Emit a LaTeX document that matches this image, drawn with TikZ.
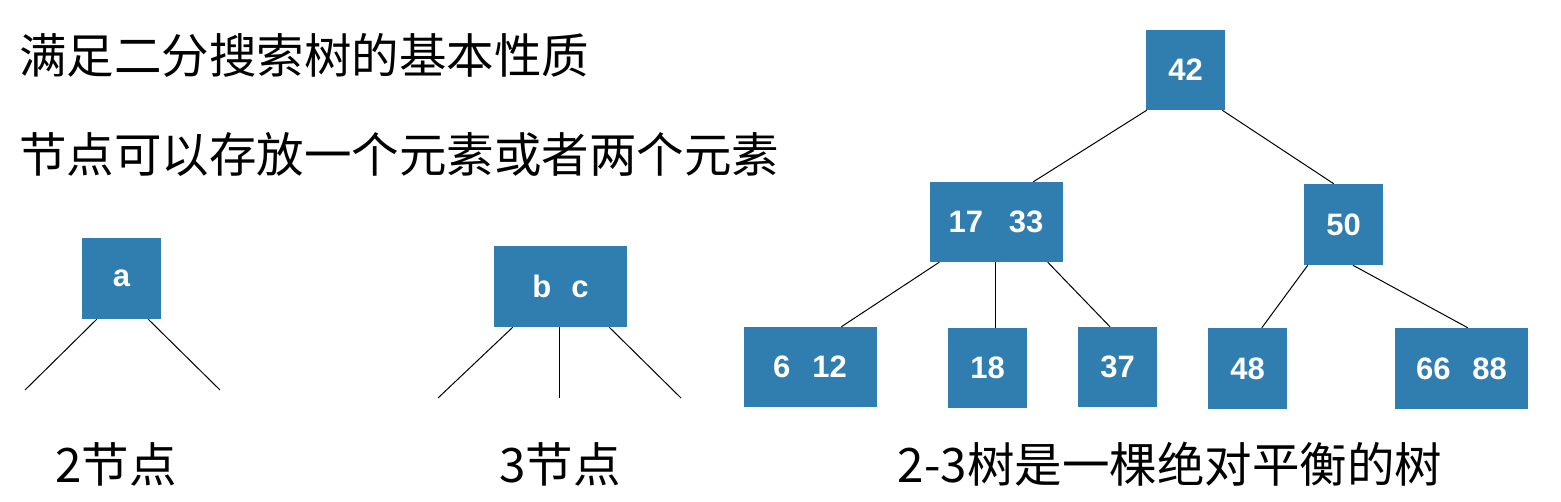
\documentclass[tikz,border=0pt]{standalone}
\usepackage{fontspec}
\setmainfont{Liberation Sans}
\newfontfamily\cjk{Noto Sans CJK SC}
\definecolor{boxblue}{RGB}{48,125,176}
\begin{document}
\begin{tikzpicture}[x=1pt,y=-1pt,
  keybox/.style={fill=boxblue, inner sep=0pt, minimum height=80pt, text=white,
     font=\fontsize{31}{34}\selectfont\bfseries},
  narrow/.style={keybox, minimum width=79pt},
  wide/.style={keybox, minimum width=133pt},
  link/.style={draw=black, line width=1pt},
  cjktext/.style={font=\cjk\fontsize{47.5}{50}\selectfont, inner sep=0pt, anchor=west},
  captext/.style={font=\cjk\fontsize{47.5}{50}\selectfont, inner sep=0pt}
]
\useasboundingbox (0,0) rectangle (1561,502);
\fill[white] (0,0) rectangle (1561,502);

% texts
\node[cjktext] (t1) at (19,55) {满足二分搜索树的基本性质};
\node[cjktext] (t2) at (19,155) {节点可以存放一个元素或者两个元素};

% 2-node
\node[narrow, minimum height=81pt] (a) at (121.5,278.5) {a};
\coordinate (al) at (25,390);
\coordinate (ar) at (220,390);
\draw[link] ([xshift=15pt]a.south west) -- (al);
\draw[link] ([xshift=-13pt]a.south east) -- (ar);
\node[captext] (c2) at (116,464) {2节点};

% 3-node
\node[wide, minimum height=81pt] (bc) at (560.5,286.5) {b\hspace{20pt}c};
\coordinate (bl) at (438,398);
\coordinate (bm) at (559,398);
\coordinate (br) at (681,398);
\draw[link] ([xshift=19pt]bc.south west) -- (bl);
\draw[link] ([xshift=-1.5pt]bc.south) -- (bm);
\draw[link] ([xshift=-18pt]bc.south east) -- (br);
\node[captext] (c3) at (560,464) {3节点};

% 2-3 tree
\node[narrow] (n42) at (1185.5,70) {42};
\node[wide] (n1733) at (996,222) {17\hspace{26pt}33};
\node[narrow, minimum height=81pt] (n50) at (1343.5,224.5) {50};
\node[wide] (n612) at (810,367) {6\hspace{22pt}12};
\node[narrow] (n18) at (987.5,368) {18};
\node[narrow] (n37) at (1117.5,367) {37};
\node[narrow, minimum height=81pt] (n48) at (1247.5,368.5) {48};
\node[wide, minimum height=81pt] (n6688) at (1461.5,368.5) {66\hspace{22pt}88};

\draw[link] ([xshift=1pt]n42.south west) -- ([xshift=104pt]n1733.north west);
\draw[link] ([xshift=-3pt]n42.south east) -- ([xshift=30pt]n50.north west);
\draw[link] ([xshift=10pt]n1733.south west) -- ([xshift=98pt]n612.north west);
\draw[link] ([xshift=-1pt]n1733.south) -- ([xshift=7.5pt]n18.north);
\draw[link] ([xshift=-15pt]n1733.south east) -- ([xshift=-7.5pt]n37.north);
\draw[link] ([xshift=4pt]n50.south west) -- ([xshift=54pt]n48.north west);
\draw[link] ([xshift=49pt]n50.south west) -- ([xshift=73pt]n6688.north west);

\node[captext] (c23) at (1170,464) {2-3树是一棵绝对平衡的树};
\end{tikzpicture}
\end{document}
